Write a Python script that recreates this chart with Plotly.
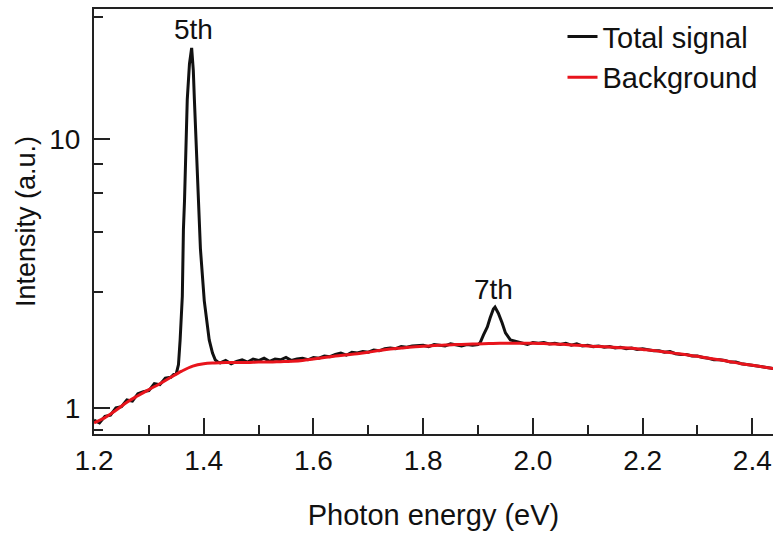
import math
import plotly.graph_objects as go

# ---------------- data ----------------
bg_energy = [1.20, 1.22, 1.24, 1.26, 1.28, 1.30, 1.32, 1.34, 1.36, 1.38,
             1.40, 1.42, 1.44, 1.46, 1.48, 1.50, 1.52, 1.54, 1.56, 1.58,
             1.60, 1.62, 1.64, 1.66, 1.68, 1.70, 1.72, 1.74, 1.76, 1.78,
             1.80, 1.82, 1.84, 1.86, 1.88, 1.90, 1.92, 1.94, 1.96, 1.98,
             2.00, 2.02, 2.04, 2.06, 2.08, 2.10, 2.12, 2.14, 2.16, 2.18,
             2.20, 2.22, 2.24, 2.26, 2.28, 2.30, 2.32, 2.34, 2.36, 2.38,
             2.40, 2.42, 2.44]
bg_intensity = [0.88, 0.92, 0.98, 1.05, 1.11, 1.17, 1.23, 1.30, 1.37, 1.43,
                1.46, 1.47, 1.475, 1.475, 1.475, 1.48, 1.48, 1.485, 1.49, 1.50,
                1.52, 1.54, 1.56, 1.575, 1.59, 1.61, 1.635, 1.655, 1.67, 1.685,
                1.695, 1.705, 1.715, 1.72, 1.725, 1.73, 1.735, 1.74, 1.74, 1.74,
                1.74, 1.735, 1.73, 1.72, 1.71, 1.70, 1.69, 1.685, 1.675, 1.665,
                1.65, 1.635, 1.615, 1.595, 1.575, 1.555, 1.53, 1.51, 1.485, 1.46,
                1.44, 1.42, 1.40]

sig_energy = [1.20, 1.21, 1.22, 1.23, 1.24, 1.25, 1.26, 1.27, 1.28, 1.29,
              1.30, 1.31, 1.32, 1.33, 1.34, 1.345, 1.350, 1.354, 1.357, 1.361,
              1.363, 1.365, 1.370, 1.374, 1.378, 1.381, 1.383, 1.387, 1.390, 1.394,
              1.401, 1.410, 1.416, 1.421, 1.426, 1.43, 1.44, 1.45, 1.46, 1.47,
              1.48, 1.49, 1.50, 1.51, 1.52, 1.53, 1.54, 1.55, 1.56, 1.57,
              1.58, 1.59, 1.60, 1.61, 1.62, 1.63, 1.64, 1.65, 1.66, 1.67,
              1.68, 1.69, 1.70, 1.71, 1.72, 1.73, 1.74, 1.75, 1.76, 1.77,
              1.78, 1.79, 1.80, 1.81, 1.82, 1.83, 1.84, 1.85, 1.86, 1.87,
              1.88, 1.89, 1.90, 1.904, 1.910, 1.917, 1.922, 1.928, 1.931, 1.937,
              1.944, 1.950, 1.959, 1.971, 1.98, 1.99, 2.00, 2.01, 2.02, 2.03,
              2.04, 2.05, 2.06, 2.07, 2.08, 2.09, 2.10, 2.11, 2.12, 2.13,
              2.14, 2.15, 2.16, 2.17, 2.18, 2.19, 2.20, 2.21, 2.22, 2.23,
              2.24, 2.25, 2.26, 2.27, 2.28, 2.29, 2.30, 2.31, 2.32, 2.33,
              2.34, 2.35, 2.36, 2.37, 2.38, 2.39, 2.40, 2.41, 2.42, 2.43, 2.44]
sig_intensity = [0.90, 0.88, 0.93, 0.94, 1.00, 1.01, 1.07, 1.06, 1.13, 1.15,
                 1.16, 1.23, 1.22, 1.29, 1.30, 1.33, 1.34, 1.45, 1.79, 2.6,
                 4.6, 5.9, 14.0, 19.0, 21.8, 18.0, 14.0, 9.1, 5.9, 3.9,
                 2.5, 1.79, 1.60, 1.51, 1.48, 1.47, 1.50, 1.46, 1.49, 1.51,
                 1.48, 1.52, 1.50, 1.53, 1.49, 1.52, 1.51, 1.54, 1.50, 1.52,
                 1.53, 1.51, 1.54, 1.53, 1.56, 1.55, 1.58, 1.60, 1.57, 1.61,
                 1.60, 1.62, 1.61, 1.64, 1.63, 1.66, 1.67, 1.66, 1.69, 1.68,
                 1.70, 1.70, 1.71, 1.69, 1.72, 1.71, 1.70, 1.73, 1.71, 1.70,
                 1.72, 1.71, 1.72, 1.75, 1.87, 2.00, 2.16, 2.33, 2.37, 2.25,
                 2.07, 1.90, 1.79, 1.76, 1.74, 1.72, 1.75, 1.74, 1.75, 1.73,
                 1.74, 1.72, 1.74, 1.71, 1.73, 1.70, 1.71, 1.69, 1.70, 1.68,
                 1.69, 1.67, 1.68, 1.66, 1.67, 1.65, 1.66, 1.64, 1.63, 1.63,
                 1.61, 1.62, 1.59, 1.58, 1.58, 1.56, 1.56, 1.54, 1.53, 1.51,
                 1.51, 1.50, 1.48, 1.48, 1.46, 1.45, 1.44, 1.43, 1.42, 1.41, 1.40]

x_tick_values = [1.2, 1.4, 1.6, 1.8, 2.0, 2.2, 2.4]
x_tick_labels = ["1.2", "1.4", "1.6", "1.8", "2.0", "2.2", "2.4"]
y_tick_values = [1, 10]
y_tick_labels = ["1", "10"]
y_minor_tick_values = [0.83, 2.7, 4.5, 6.3, 8.07, 28.4]

peak_labels = ["5th", "7th"]
peak_label_energy = [1.382, 1.929]
peak_label_intensity = [25.5, 2.75]

FONT = "Liberation Sans, Arial, sans-serif"
AXC = "#222222"

fig = go.Figure()
fig.add_trace(go.Scatter(x=sig_energy, y=sig_intensity, mode="lines",
                         name="Total signal",
                         line=dict(color="#111111", width=3)))
fig.add_trace(go.Scatter(x=bg_energy, y=bg_intensity, mode="lines",
                         name="Background", line_shape="spline",
                         line=dict(color="#e8141c", width=3)))

# annotations on a log axis take log10 positions
for t, xe, yi in zip(peak_labels, peak_label_energy, peak_label_intensity):
    fig.add_annotation(x=xe, y=math.log10(yi), yref="y", xref="x", text=t,
                       showarrow=False,
                       font=dict(size=28, color="#111111", family=FONT))

fig.update_layout(
    width=773, height=533,
    margin=dict(l=94, r=0, t=9, b=99),
    paper_bgcolor="white", plot_bgcolor="white",
    font=dict(family=FONT, size=27, color="#111111"),
    showlegend=True,
    legend=dict(x=0.69, y=0.995, xanchor="left", yanchor="top",
                bgcolor="rgba(0,0,0,0)", borderwidth=0,
                font=dict(size=29, family=FONT, color="#111111"),
                tracegroupgap=0),
    xaxis=dict(range=[1.2, 2.4377], showline=True, linecolor=AXC, linewidth=2,
               mirror=True, ticks="inside", ticklen=16, tickwidth=2, tickcolor=AXC,
               tickmode="array", tickvals=x_tick_values, ticktext=x_tick_labels,
               minor=dict(dtick=0.1, tick0=1.2, ticks="inside", ticklen=9,
                          tickwidth=2, tickcolor=AXC, showgrid=False),
               showgrid=False, zeroline=False,
               tickfont=dict(size=28, family=FONT),
               title=dict(text="Photon energy (eV)", font=dict(size=29, family=FONT),
                          standoff=30)),
    yaxis=dict(type="log", range=[-0.097, 1.483], showline=True, linecolor=AXC,
               linewidth=2, mirror=False, ticks="inside", ticklen=16, tickwidth=2,
               tickcolor=AXC, tickmode="array", tickvals=y_tick_values,
               ticktext=y_tick_labels,
               minor=dict(tickmode="array", tickvals=y_minor_tick_values,
                          ticks="inside", ticklen=9, tickwidth=2, tickcolor=AXC,
                          showgrid=False),
               showgrid=False, zeroline=False, ticklabelstandoff=6,
               tickfont=dict(size=28, family=FONT),
               title=dict(text="Intensity (a.u.)", font=dict(size=27, family=FONT),
                          standoff=6)),
)

fig.write_html("out.html")
